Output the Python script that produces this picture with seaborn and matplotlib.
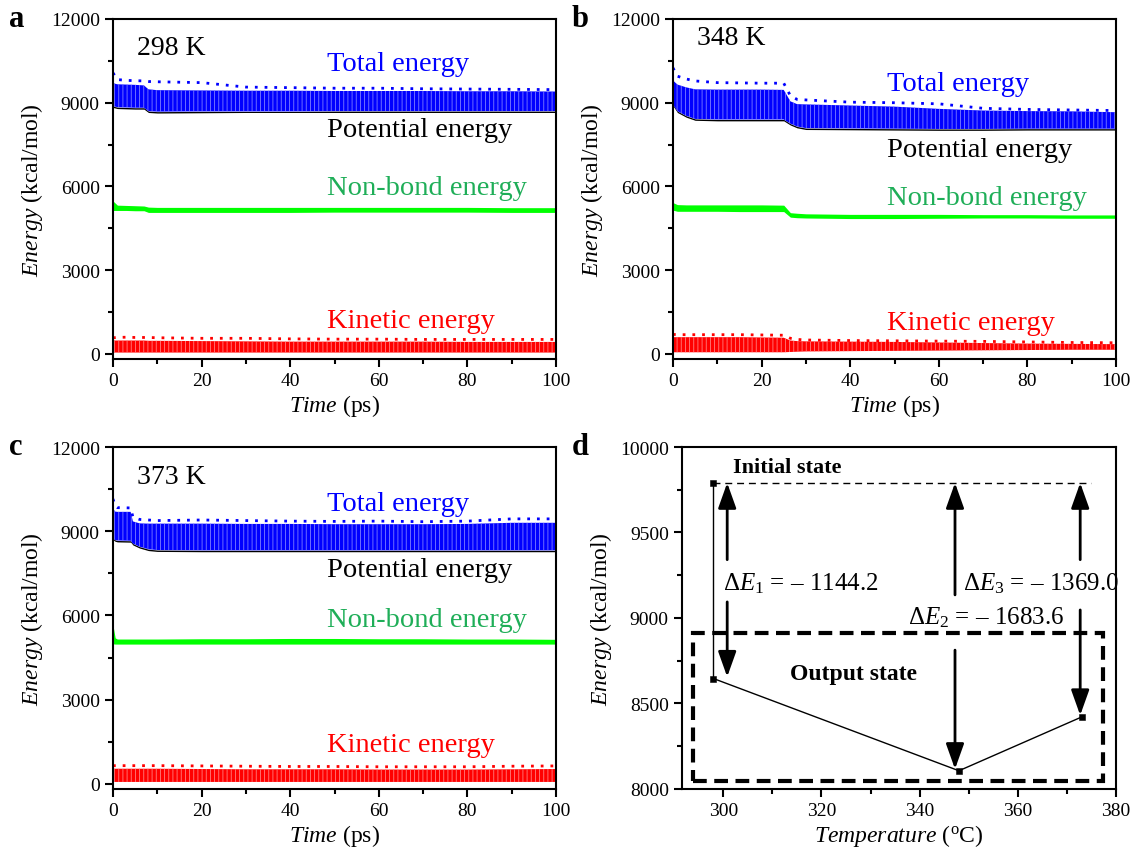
import numpy as np
import pandas as pd
import matplotlib.pyplot as plt
import seaborn as sns
from matplotlib.ticker import MultipleLocator
from matplotlib.patches import Rectangle

# estilo
sns.set_style("ticks")
plt.rcParams['font.family'] = ['Liberation Serif', 'DejaVu Serif']
plt.rcParams['mathtext.fontset'] = 'custom'
plt.rcParams['mathtext.rm'] = 'Liberation Serif'
plt.rcParams['mathtext.it'] = 'Liberation Serif:italic'
plt.rcParams['axes.edgecolor'] = 'black'
plt.rcParams['axes.labelcolor'] = 'black'
plt.rcParams['text.color'] = 'black'
plt.rcParams['xtick.color'] = 'black'
plt.rcParams['ytick.color'] = 'black'
plt.rcParams['hatch.linewidth'] = 0.6

# ---------------- dados ----------------
# painel a, 298 K
t_a = [0, 1, 3, 5, 7, 8, 10, 20, 30, 40, 50, 60, 70, 80, 90, 100]
tot_pico_a = [10070, 9830, 9800, 9790, 9780, 9760, 9750, 9720, 9560, 9540, 9520, 9520, 9500, 9490, 9480, 9470]
tot_hi_a = [9700, 9660, 9650, 9640, 9620, 9480, 9450, 9440, 9430, 9430, 9420, 9420, 9420, 9410, 9410, 9400]
tot_lo_a = [8880, 8840, 8830, 8820, 8820, 8700, 8680, 8690, 8690, 8690, 8700, 8700, 8700, 8700, 8700, 8700]
pot_lo_a = [8830, 8790, 8780, 8770, 8770, 8650, 8630, 8640, 8650, 8650, 8650, 8650, 8650, 8650, 8650, 8650]
nb_hi_a = [5480, 5330, 5320, 5310, 5300, 5260, 5250, 5250, 5250, 5250, 5250, 5250, 5250, 5250, 5240, 5240]
nb_lo_a = [5140, 5140, 5140, 5130, 5130, 5070, 5070, 5070, 5070, 5070, 5080, 5080, 5080, 5080, 5070, 5070]
ke_pico_a = [580, 590, 600, 590, 590, 590, 580, 560, 560, 540, 530, 530, 520, 520, 520, 520]
ke_hi_a = [480, 480, 480, 480, 480, 470, 470, 460, 450, 440, 440, 440, 440, 430, 430, 430]
ke_lo_a = [50, 50, 50, 50, 50, 50, 50, 50, 50, 50, 50, 50, 50, 50, 50, 50]

# painel b, 348 K
t_b = [0, 1, 3, 5, 10, 15, 20, 25, 26.5, 28, 30, 40, 50, 60, 70, 80, 90, 100]
tot_pico_b = [10250, 9950, 9850, 9780, 9720, 9710, 9700, 9700, 9250, 9120, 9100, 9020, 9000, 8960, 8800, 8760, 8740, 8720]
tot_hi_b = [9800, 9650, 9550, 9480, 9470, 9470, 9470, 9460, 9050, 8950, 8940, 8900, 8860, 8780, 8720, 8700, 8690, 8660]
tot_lo_b = [8940, 8700, 8530, 8420, 8400, 8400, 8400, 8400, 8250, 8150, 8090, 8080, 8070, 8060, 8060, 8070, 8070, 8070]
pot_lo_b = [8890, 8650, 8480, 8370, 8350, 8350, 8350, 8350, 8200, 8100, 8040, 8030, 8020, 8010, 8010, 8020, 8020, 8020]
nb_hi_b = [5420, 5350, 5340, 5340, 5340, 5340, 5340, 5330, 5060, 5040, 5020, 5000, 5000, 5000, 4990, 4990, 4980, 4980]
nb_lo_b = [5150, 5110, 5110, 5110, 5110, 5100, 5100, 5100, 4900, 4880, 4870, 4850, 4850, 4860, 4870, 4870, 4860, 4860]
ke_pico_b = [700, 690, 690, 690, 690, 690, 680, 670, 560, 520, 500, 480, 470, 460, 450, 430, 410, 400]
ke_hi_b = [600, 600, 600, 600, 600, 600, 590, 580, 480, 460, 450, 440, 430, 410, 390, 370, 360, 350]
ke_lo_b = [60, 60, 60, 60, 60, 60, 60, 60, 70, 80, 90, 100, 110, 120, 130, 140, 150, 150]

# painel c, 373 K
t_c = [0, 0.5, 1, 4, 4.5, 6, 8, 10, 20, 30, 40, 50, 60, 70, 80, 90, 100]
tot_pico_c = [10150, 9900, 9840, 9830, 9500, 9420, 9400, 9380, 9400, 9380, 9360, 9350, 9360, 9340, 9360, 9440, 9440]
tot_hi_c = [9800, 9700, 9690, 9690, 9350, 9280, 9270, 9270, 9270, 9260, 9260, 9250, 9250, 9250, 9260, 9300, 9300]
tot_lo_c = [8750, 8690, 8670, 8660, 8560, 8450, 8360, 8330, 8320, 8320, 8320, 8320, 8320, 8320, 8320, 8320, 8320]
pot_lo_c = [8700, 8640, 8620, 8610, 8510, 8400, 8310, 8280, 8270, 8270, 8270, 8270, 8270, 8270, 8270, 8270, 8270]
nb_hi_c = [5650, 5200, 5160, 5160, 5160, 5160, 5160, 5160, 5170, 5170, 5180, 5180, 5170, 5170, 5160, 5160, 5150]
nb_lo_c = [4990, 4980, 4980, 4980, 4980, 4980, 4980, 4980, 4980, 4980, 4980, 4980, 4980, 4980, 4980, 4980, 4980]
ke_pico_c = [650, 650, 650, 650, 650, 650, 650, 650, 640, 630, 620, 620, 610, 610, 610, 630, 640]
ke_hi_c = [540, 540, 540, 540, 540, 540, 540, 540, 530, 520, 520, 520, 510, 510, 510, 520, 530]
ke_lo_c = [70, 70, 70, 70, 70, 70, 70, 70, 70, 70, 70, 70, 70, 70, 70, 70, 70]

# painel d
temperaturas = [298, 348, 373]
energia_inicial = 9790.0
energia_final = [8645.8, 8106.4, 8421.0]

AZUL, VERDE, VERMELHO = '#0000ff', '#00ff00', '#ff0000'
VERDE_TXT = '#1fae58'


def configurar_tempo(ax, temp_txt, pos_txt):
    ax.set_xlim(0, 100)
    ax.set_ylim(-180, 12000)
    ax.xaxis.set_major_locator(MultipleLocator(20))
    ax.xaxis.set_minor_locator(MultipleLocator(10))
    ax.yaxis.set_major_locator(MultipleLocator(3000))
    ax.yaxis.set_minor_locator(MultipleLocator(1500))
    ax.set_xlabel(r'$\mathit{Time}$ (ps)', fontsize=17, labelpad=2)
    ax.set_ylabel(r'$\mathit{Energy}$ (kcal/mol)', fontsize=17, labelpad=4)
    ax.text(5.4, pos_txt[0], temp_txt, fontsize=20, va='center', ha='left')
    ax.text(48.3, pos_txt[1], 'Total energy', color=AZUL, fontsize=20.5, va='center')
    ax.text(48.3, pos_txt[2], 'Potential energy', color='black', fontsize=20.5, va='center')
    ax.text(48.3, pos_txt[3], 'Non-bond energy', color=VERDE_TXT, fontsize=20.5, va='center')
    ax.text(48.3, pos_txt[4], 'Kinetic energy', color=VERMELHO, fontsize=20.5, va='center')


def desenhar_energias(ax, t, pot_lo, tot_lo, tot_hi, tot_pico, nb_lo, nb_hi, ke_lo, ke_hi, ke_pico):
    df = pd.DataFrame({'t': t, 'pot_lo': pot_lo, 'tot_lo': tot_lo, 'tot_hi': tot_hi,
                       'tot_pico': tot_pico, 'nb_lo': nb_lo, 'nb_hi': nb_hi,
                       'ke_lo': ke_lo, 'ke_hi': ke_hi, 'ke_pico': ke_pico})
    # energia potencial (borda preta) + total (azul, com listras claras)
    ax.fill_between(df['t'], df['pot_lo'], df['tot_lo'], color='black', lw=0)
    ax.fill_between(df['t'], df['tot_lo'], df['tot_hi'], facecolor=AZUL, edgecolor='#7f7fff',
                    hatch='||||', lw=0)
    sns.lineplot(data=df, x='t', y='tot_pico', ax=ax, color=AZUL, lw=2,
                 linestyle=(0, (1, 2.5)))
    # energia non-bond
    ax.fill_between(df['t'], df['nb_lo'], df['nb_hi'], color=VERDE, lw=0)
    # energia cinetica
    ax.fill_between(df['t'], df['ke_lo'], df['ke_hi'], facecolor=VERMELHO, edgecolor='#ff8080',
                    hatch='||||', lw=0)
    sns.lineplot(data=df, x='t', y='ke_pico', ax=ax, color=VERMELHO, lw=2,
                 linestyle=(0, (1, 2.5)))


fig = plt.figure(figsize=(11.32, 8.54), dpi=100)
ax_a = fig.add_axes([0.0998, 0.5785, 0.3914, 0.3981])
ax_b = fig.add_axes([0.5945, 0.5785, 0.3914, 0.3981])
ax_c = fig.add_axes([0.0998, 0.0750, 0.3914, 0.4004])
ax_d = fig.add_axes([0.6025, 0.0750, 0.3834, 0.4004])

desenhar_energias(ax_a, t_a, pot_lo_a, tot_lo_a, tot_hi_a, tot_pico_a, nb_lo_a, nb_hi_a, ke_lo_a, ke_hi_a, ke_pico_a)
configurar_tempo(ax_a, '298 K', [10968, 10394, 8029, 5950, 1183])

desenhar_energias(ax_b, t_b, pot_lo_b, tot_lo_b, tot_hi_b, tot_pico_b, nb_lo_b, nb_hi_b, ke_lo_b, ke_hi_b, ke_pico_b)
configurar_tempo(ax_b, '348 K', [11326, 9677, 7312, 5591, 1111])

desenhar_energias(ax_c, t_c, pot_lo_c, tot_lo_c, tot_hi_c, tot_pico_c, nb_lo_c, nb_hi_c, ke_lo_c, ke_hi_c, ke_pico_c)
configurar_tempo(ax_c, '373 K', [10938, 9976, 7625, 5843, 1390])

# ---------------- painel d ----------------
ax = ax_d
df_d = pd.DataFrame({'temp': temperaturas, 'energia': energia_final})
ax.plot([temperaturas[0], 375], [energia_inicial, energia_inicial], color='black',
        lw=1, linestyle=(0, (5, 3.5)))
ax.plot([temperaturas[0], temperaturas[0]], [energia_inicial, energia_final[0]], color='black', lw=1)
sns.lineplot(data=df_d, x='temp', y='energia', ax=ax, color='black', lw=1)
sns.scatterplot(x=[temperaturas[0]] + temperaturas, y=[energia_inicial] + energia_final,
                ax=ax, marker='s', s=22, color='black', edgecolor='black', zorder=5)

# setas duplas com espaco para o texto
setas_x = [300.8, 347.2, 372.7]
gap_sup = [9341, 9135, 9341]
gap_inf = [9094, 8812, 9047]
estilo = dict(arrowstyle='-|>,head_length=0.7,head_width=0.25', color='black', lw=2,
              mutation_scale=22, shrinkA=0, shrinkB=0)
for x, gs, gi, ef in zip(setas_x, gap_sup, gap_inf, energia_final):
    ax.annotate('', xy=(x, energia_inicial), xytext=(x, gs), arrowprops=estilo)
    ax.annotate('', xy=(x, ef + 10), xytext=(x, gi), arrowprops=estilo)

deltas = [e - energia_inicial for e in energia_final]
pos_delta = [(299.9, 9206), (337.6, 9006), (348.8, 9206)]
for i, (d, (x, y)) in enumerate(zip(deltas, pos_delta)):
    ax.text(x, y, rf'$\Delta E_{i + 1}$ = – {abs(d):.1f}', fontsize=18, va='center', ha='left')

ax.text(302, 9882, 'Initial state', fontsize=16, fontweight='bold', va='center')
ax.text(313.6, 8676, 'Output state', fontsize=17, fontweight='bold', va='center')
ax.add_patch(Rectangle((293.8, 8047), 377.3 - 293.8, 8912 - 8047, fill=False,
                       lw=3, linestyle=(0, (3.3, 1.8)), edgecolor='black', zorder=4))

ax.set_xlim(291.6, 380)
ax.set_ylim(8000, 10000)
ax.xaxis.set_major_locator(MultipleLocator(20))
ax.xaxis.set_minor_locator(MultipleLocator(10))
ax.yaxis.set_major_locator(MultipleLocator(500))
ax.yaxis.set_minor_locator(MultipleLocator(250))
ax.set_xlabel(r'$\mathit{Temperature}$ ($^{\rm o}$C)', fontsize=17, labelpad=2)
ax.set_ylabel(r'$\mathit{Energy}$ (kcal/mol)', fontsize=17, labelpad=4)

for a in [ax_a, ax_b, ax_c, ax_d]:
    a.tick_params(axis='both', which='major', labelsize=14, length=6, width=1.5, direction='out')
    a.tick_params(axis='both', which='minor', length=3.5, width=1.5, direction='out')
    for s in a.spines.values():
        s.set_linewidth(1.5)
        s.set_visible(True)

fig.text(0.008, 0.977, 'a', fontsize=22, fontweight='bold', va='center')
fig.text(0.505, 0.977, 'b', fontsize=22, fontweight='bold', va='center')
fig.text(0.008, 0.476, 'c', fontsize=22, fontweight='bold', va='center')
fig.text(0.505, 0.476, 'd', fontsize=22, fontweight='bold', va='center')

fig.savefig('out.png', dpi=100)
